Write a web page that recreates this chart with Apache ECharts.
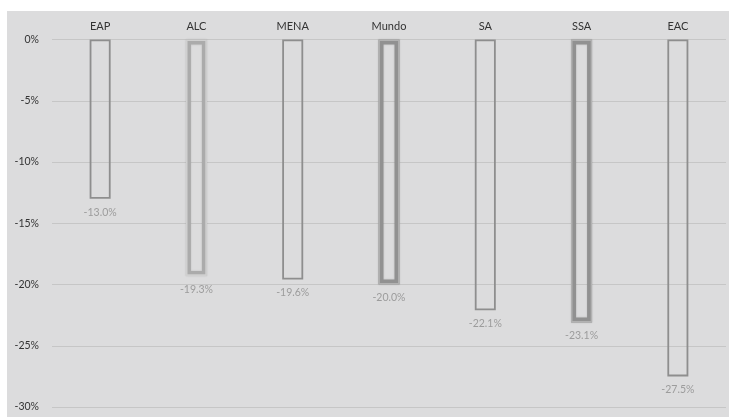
<!DOCTYPE html>
<html>
<head>
<meta charset="utf-8">
<script src="https://cdn.jsdelivr.net/npm/echarts@6/dist/echarts.min.js"></script>
<style>
  html, body { margin: 0; padding: 0; background: #ffffff; }
  #frame { position: absolute; left: 7px; top: 11px; width: 722px; height: 406px; background: #dcdcdd; }
  #chart { position: absolute; left: 0; top: 0; width: 729px; height: 417px; }
</style>
</head>
<body>
<div id="frame"></div>
<div id="chart"></div>
<script>
// Regions and their change (%)
const regions = ['EAP', 'ALC', 'MENA', 'Mundo', 'SA', 'SSA', 'EAC'];
const change = [-13.0, -19.3, -19.6, -20.0, -22.1, -23.1, -27.5];
const yTicks = { min: -30, max: 0, step: 5 };

// Outline look for each bar: plain thin, light double, dark double
const outline = {
  plain: { outer: { w: 1.8, c: '#8e8e8e' }, inner: null },
  light: { outer: { w: 5, c: '#ababab' }, inner: { w: 1.6, c: '#d0d0d0' } },
  dark:  { outer: { w: 5, c: '#919191' }, inner: { w: 1.4, c: '#b2b2b2' } }
};
const look = { EAP: 'plain', ALC: 'light', MENA: 'plain', Mundo: 'dark', SA: 'plain', SSA: 'dark', EAC: 'plain' };

const fmt = v => v.toFixed(1) + '%';

const outerData = regions.map((r, i) => {
  const o = outline[look[r]].outer;
  const soft = look[r] !== 'plain';
  return {
    value: change[i],
    itemStyle: {
      color: 'rgba(0,0,0,0)',
      borderColor: o.c,
      borderWidth: o.w,
      shadowBlur: soft ? 2 : 0,
      shadowColor: soft ? 'rgba(0,0,0,0.15)' : 'transparent'
    }
  };
});

const innerData = regions.map((r, i) => {
  const s = outline[look[r]].inner;
  if (!s) return '-';
  return {
    value: change[i],
    itemStyle: { color: 'rgba(0,0,0,0)', borderColor: s.c, borderWidth: s.w }
  };
});

const chart = echarts.init(document.getElementById('chart'), null, { renderer: 'canvas' });
chart.setOption({
  backgroundColor: 'transparent',
  animation: false,
  grid: { left: 52, right: 3, top: 39.5, bottom: 10, containLabel: false },
  xAxis: {
    type: 'category',
    data: regions,
    position: 'top',
    axisLine: { show: false },
    axisTick: { show: false },
    axisLabel: { color: '#333333', fontSize: 11, fontFamily: 'Lato', margin: 8 }
  },
  yAxis: {
    type: 'value',
    min: yTicks.min,
    max: yTicks.max,
    interval: yTicks.step,
    axisLine: { show: false },
    axisTick: { show: false },
    axisLabel: { color: '#333333', fontSize: 10.5, fontFamily: 'Lato', margin: 13, formatter: v => v + '%' },
    splitLine: { lineStyle: { color: '#c6c6c6', width: 1 } }
  },
  series: [
    {
      name: 'outer',
      type: 'bar',
      barWidth: 21,
      barGap: '-100%',
      data: outerData,
      label: {
        show: true,
        position: 'bottom',
        distance: 8,
        color: '#9c9c9c',
        fontSize: 10.5,
        fontFamily: 'Lato',
        formatter: p => fmt(p.value)
      }
    },
    {
      name: 'inner',
      type: 'bar',
      barWidth: 21,
      barGap: '-100%',
      data: innerData,
      silent: true
    }
  ]
});
</script>
</body>
</html>
